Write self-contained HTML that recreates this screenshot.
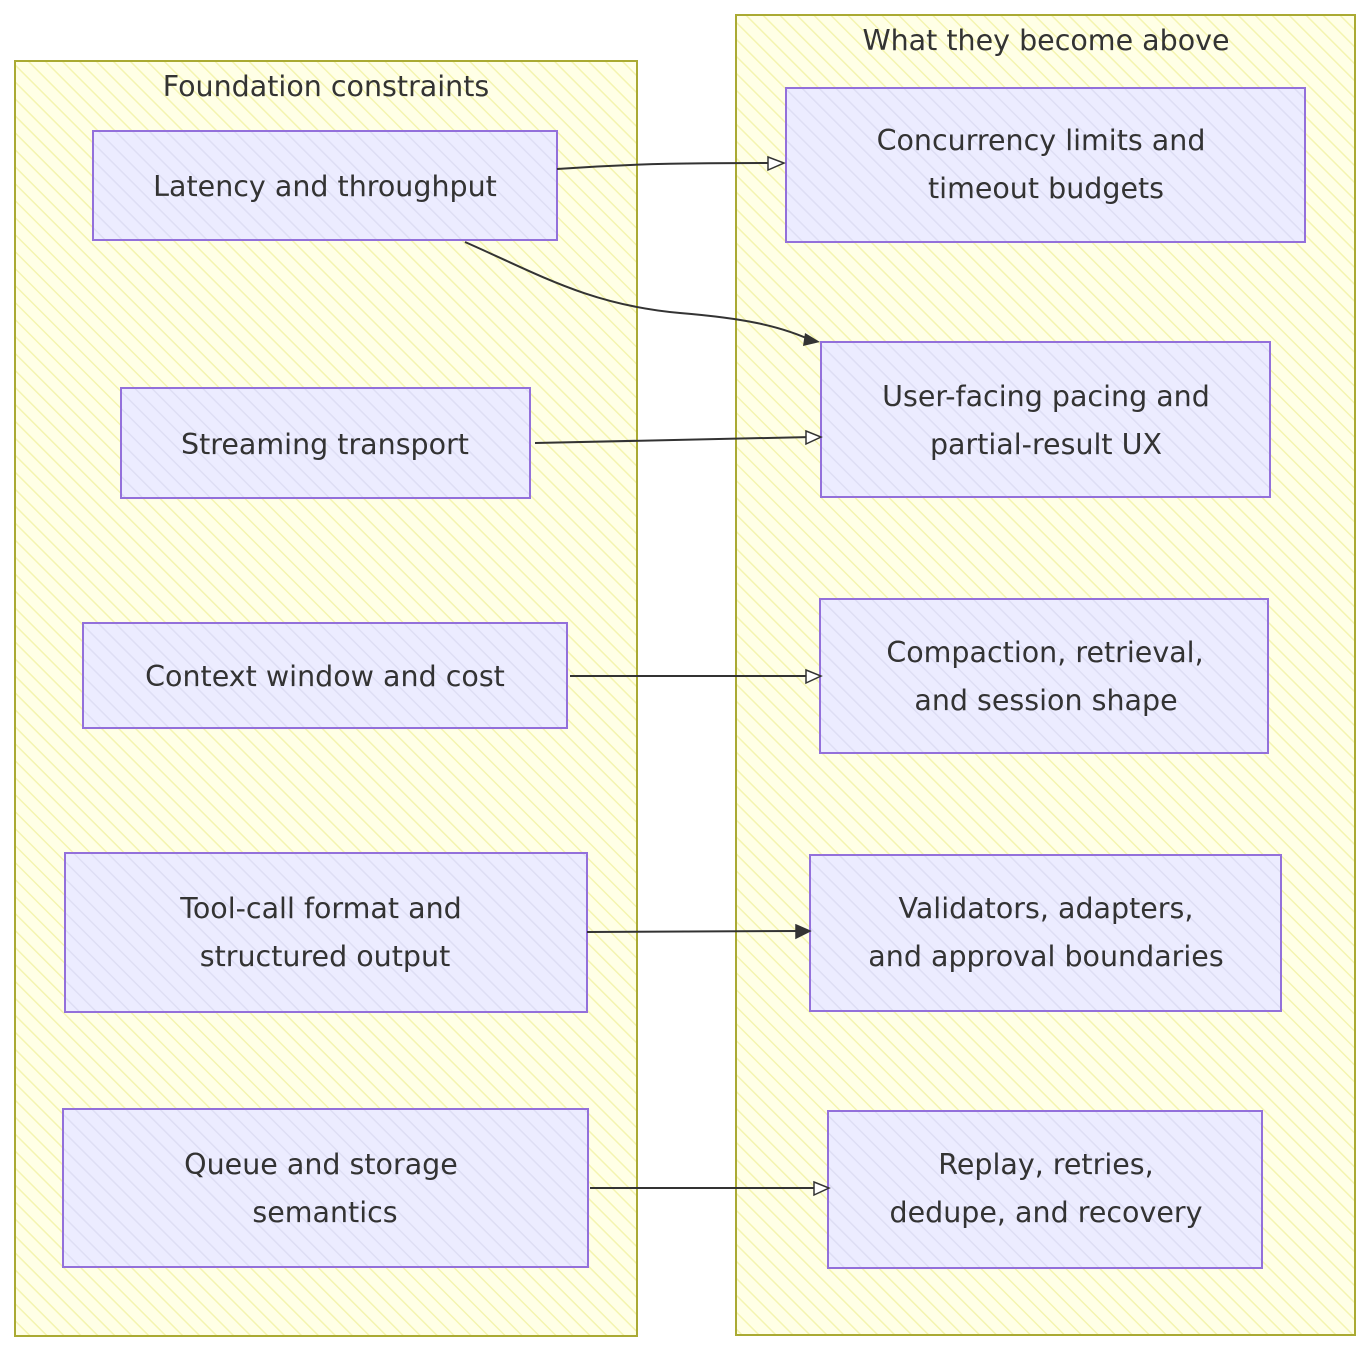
<!DOCTYPE html>
<html><head><meta charset="utf-8"><style>
html,body{margin:0;padding:0;background:#fff;}
svg{display:block;}
text{font-family:"DejaVu Sans","Liberation Sans",sans-serif;font-size:28.5px;fill:#333;text-anchor:middle;}
</style></head><body>
<svg width="1372" height="1352" viewBox="0 0 1372 1352" xmlns="http://www.w3.org/2000/svg">
<defs>
<pattern id="hy" width="12" height="12" patternUnits="userSpaceOnUse" patternTransform="rotate(-45)">
<rect width="12" height="12" fill="#ffffe6"/><line x1="0" y1="0" x2="0" y2="12" stroke="#f4f4b0" stroke-width="3"/></pattern>
<pattern id="hp" width="12" height="12" patternUnits="userSpaceOnUse" patternTransform="rotate(-45)">
<rect width="12" height="12" fill="#ececff"/><line x1="0" y1="0" x2="0" y2="12" stroke="#dedef4" stroke-width="3"/></pattern>
</defs>
<rect x="15" y="61" width="622" height="1275" fill="url(#hy)" stroke="#aaaa33" stroke-width="2"/>
<rect x="736" y="15" width="619" height="1320" fill="url(#hy)" stroke="#aaaa33" stroke-width="2"/>
<text x="326" y="96">Foundation constraints</text>
<text x="1046" y="50">What they become above</text>
<g fill="url(#hp)" stroke="#9370db" stroke-width="2">
<rect x="93" y="131" width="464" height="109"/>
<rect x="121" y="388" width="409" height="110"/>
<rect x="83" y="623" width="484" height="105"/>
<rect x="65" y="853" width="522" height="159"/>
<rect x="63" y="1109" width="525" height="158"/>
<rect x="786" y="88" width="519" height="154"/>
<rect x="821" y="342" width="449" height="155"/>
<rect x="820" y="599" width="448" height="154"/>
<rect x="810" y="855" width="471" height="156"/>
<rect x="828" y="1111" width="434" height="157"/>
</g>
<text x="325" y="196">Latency and throughput</text>
<text x="325" y="454">Streaming transport</text>
<text x="325" y="686">Context window and cost</text>
<text x="321" y="918">Tool-call format and</text>
<text x="325" y="966">structured output</text>
<text x="321" y="1174">Queue and storage</text>
<text x="325" y="1222">semantics</text>
<text x="1041" y="150">Concurrency limits and</text>
<text x="1046" y="198">timeout budgets</text>
<text x="1046" y="406">User-facing pacing and</text>
<text x="1046" y="454">partial-result UX</text>
<text x="1045" y="662">Compaction, retrieval,</text>
<text x="1046" y="710">and session shape</text>
<text x="1046" y="918">Validators, adapters,</text>
<text x="1046" y="966">and approval boundaries</text>
<text x="1046" y="1174">Replay, retries,</text>
<text x="1046" y="1222">dedupe, and recovery</text>
<g fill="none" stroke="#333" stroke-width="2">
<path d="M557 169 C640 163 700 163 778 163"/>
<path d="M465 242 C540 275 590 305 680 313 C740 318 780 325 815 342"/>
<path d="M535 443 L812 437"/>
<path d="M570 676 L812 676"/>
<path d="M587 932 L802 931"/>
<path d="M590 1188 L820 1188"/>
</g>
<g fill="#fff" stroke="#333" stroke-width="1.5">
<path d="M768 157 L784 163 L768 170 Z"/>
<path d="M806 431 L821 437 L806 444 Z"/>
<path d="M806 670 L821 676 L806 683 Z"/>
<path d="M796 925 L810 931 L796 938 Z" fill="#333"/>
<path d="M814 1182 L829 1188 L814 1195 Z"/>
</g>
<path d="M805 333 L820 342 L803 346 Z" fill="#333"/>
</svg>
</body></html>
